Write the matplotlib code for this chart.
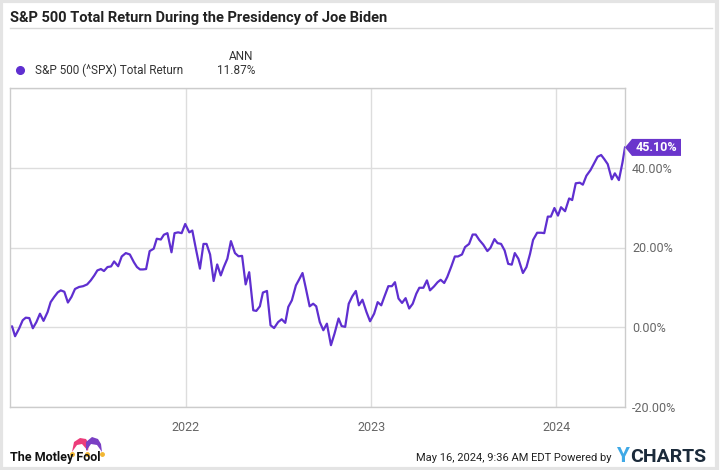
import matplotlib
matplotlib.use('Agg')
import matplotlib.pyplot as plt
import matplotlib.dates as mdates
import matplotlib.transforms as mtransforms
from matplotlib.patches import Polygon, Rectangle
import pandas as pd

plt.rcParams['font.family'] = ['Roboto', 'DejaVu Sans']

# data: days since inauguration (2021-01-20) and total return in %
start = pd.Timestamp('2021-01-20')
days = [0, 4, 10, 18, 25, 31, 38, 45, 52, 59, 66, 74, 80, 87, 94, 100, 107, 114, 121, 128,
        136, 144, 152, 159, 166, 172, 179, 185, 192, 199, 205, 213, 220, 228, 236, 244, 250,
        256, 262, 268, 275, 283, 289, 297, 303, 310, 318, 324, 331, 338, 345, 353, 359, 366,
        374, 381, 387, 394, 401, 408, 415, 421, 428, 435, 443, 450, 457, 464, 471, 479, 485,
        492, 498, 506, 513, 520, 528, 535, 542, 548, 555, 563, 569, 576, 582, 590, 597, 603,
        610, 617, 624, 632, 639, 647, 653, 660, 667, 674, 681, 687, 694, 702, 709, 717, 724,
        731, 737, 745, 752, 758, 765, 772, 779, 786, 793, 800, 806, 814, 821, 827, 835, 842,
        848, 855, 861, 869, 876, 882, 890, 896, 904, 911, 917, 924, 932, 940, 946, 954, 960,
        967, 974, 981, 988, 994, 1001, 1010, 1017, 1024, 1030, 1038, 1046, 1052, 1059, 1065,
        1072, 1079, 1085, 1093, 1101, 1107, 1114, 1122, 1128, 1135, 1143, 1150, 1157, 1164,
        1170, 1177, 1185, 1191, 1199, 1206, 1211]
total_return = [0, 0.25, -2.25, -0.3, 1.75, 2.4, 2.3, -0.25, 1.3, 3.4, 1.6, 3.8, 6.3, 7.6, 8.75,
                9.25, 8.9, 6.2, 7.6, 9.6, 10.1, 10.3, 10.75, 11.75, 13, 14.25, 14.6, 14.1, 15.1,
                15.25, 16.5, 15.3, 17.75, 18.6, 18.25, 16.3, 15.1, 14.5, 14.5, 14.6, 19.1, 19.7,
                22.2, 22, 23.2, 23.6, 18.8, 23.6, 23.8, 23.6, 25.9, 23.8, 24.25, 19.7, 14.7,
                20.9, 20.9, 18.25, 11.6, 15.75, 13, 15.1, 17.2, 21.6, 18.6, 17.8, 17.9, 10.75,
                13.8, 4.25, 4.1, 5.25, 8.7, 9.1, 0.5, -0.2, 1.3, 2, 1.1, 5.1, 6.75, 10.5, 11.9,
                13.6, 10.1, 5.25, 5.9, 5.25, 1.3, -0.75, 0.9, -4.5, -1.6, 2.2, 0.3, 0.1, 5.9,
                7.75, 9.1, 5.5, 6.9, 3.8, 1.5, 3.4, 6.3, 5.5, 7.6, 10.3, 10.3, 11.3, 7.2, 6.1,
                7.3, 4.7, 5.9, 8.4, 9.9, 9.9, 11.75, 9.25, 10.25, 11.3, 11.9, 11.1, 12.6, 15.25,
                17.75, 17.75, 18.25, 20.1, 20.9, 23.25, 23.25, 21.9, 20.7, 19.1, 19.9, 22.1,
                21.1, 20.9, 19.25, 15.9, 15.7, 18.6, 17.2, 13.6, 15.1, 18.4, 21.9, 23.7, 23.7,
                23.6, 27.75, 27.75, 29.9, 28, 30.1, 29.1, 32.3, 31.9, 36.1, 36.25, 35.75, 38,
                39.4, 41.1, 42.75, 43.2, 42.2, 40.9, 37.1, 38.6, 36.9, 41.3, 45.1]
end_date = pd.Timestamp('2024-05-15')
yticks = [-20, 0, 20, 40]
year_ticks = ['2022-01-01', '2023-01-01', '2024-01-01']
series_name = 'S&P 500 (^SPX) Total Return'
ann_value = '11.87%'
last_label = '45.10%'

dates = start + pd.to_timedelta(days, unit='D')
purple = '#5f2fd0'
grid_c = '#dddddd'
text_c = '#666666'

fig = plt.figure(figsize=(7.2, 4.7), dpi=100)
fig.patch.set_facecolor('white')

# card border
fig.patches.append(Rectangle((0.002, 0.003), 0.994, 0.994, transform=fig.transFigure,
                             fill=False, edgecolor='#e4e4e4', linewidth=3))

fig.text(10/720, 1 - 18/470, 'S&P 500 Total Return During the Presidency of Joe Biden',
         fontsize=10.5, fontweight='bold', color='#222222', va='center', ha='left')
fig.add_artist(plt.Line2D([10/720, 712/720], [1 - 28/470, 1 - 28/470],
                          transform=fig.transFigure, color='#d8d8d8', lw=1))

# legend
fig.text(253/720, 1 - 56/470, 'ANN', fontsize=8.5, color='#333333', ha='right', va='center')
fig.text(255/720, 1 - 70/470, ann_value, fontsize=8.5, color='#333333', ha='right', va='center')
fig.text(35/720, 1 - 70/470, series_name, fontsize=8.5, color='#333333', ha='left', va='center')
fig.add_artist(plt.Line2D([20/720], [1 - 70/470], marker='o', markersize=5.5, color=purple,
                          transform=fig.transFigure))

ax = fig.add_axes([10/720, 1 - 407/470, 615/720, 319/470])
ax.plot(dates, total_return, color=purple, lw=1.6, solid_joinstyle='round')
ax.set_xlim(start, end_date)
ax.set_ylim(-20, 60)

ax.set_yticks(yticks + [60])
ax.set_yticklabels(['%.2f%%' % v for v in yticks] + [''])
ax.yaxis.tick_right()
ax.set_xticks(pd.to_datetime(year_ticks))
ax.xaxis.set_major_formatter(mdates.DateFormatter('%Y'))
ax.tick_params(length=0, labelsize=9, labelcolor=text_c)
ax.tick_params(axis='y', pad=5)
ax.tick_params(axis='x', pad=10)
ax.grid(True, color=grid_c, lw=1)
ax.set_axisbelow(True)
for s in ax.spines.values():
    s.set_color('#cccccc')
    s.set_linewidth(1)

# end value tag
xl = mdates.date2num(dates[-1])
yl = total_return[-1]
tr = fig.dpi_scale_trans + mtransforms.ScaledTranslation(xl, yl, ax.transData)
w, h, tip = 56/100, 17/100, 7/100
tag = Polygon([(0, 0), (tip, h/2), (w, h/2), (w, -h/2), (tip, -h/2)], closed=True,
              facecolor='#6a35cc', edgecolor='none', transform=tr, clip_on=False, zorder=5)
ax.add_patch(tag)
ax.annotate(last_label, (xl, yl), xytext=(tip + (w - tip)/2, 0), textcoords=tr,
            color='white', fontsize=9, fontweight='bold', ha='center', va='center',
            zorder=6, annotation_clip=False)

# footer
fig.text(10/720, 1 - 458/470, 'The Motley Fool', fontsize=9, fontweight='bold',
         color='#111111', ha='left', va='center')
hat_l = Polygon([(72/720, 1-452/470), (74/720, 1-442/470), (80/720, 1-438/470), (86/720, 1-439/470),
                 (89/720, 1-444/470), (88/720, 1-451/470), (82/720, 1-444/470), (77/720, 1-445/470)],
                closed=True, transform=fig.transFigure, facecolor='#ec3c7a', edgecolor='none')
hat_r = Polygon([(86/720, 1-451/470), (86/720, 1-442/470), (92/720, 1-437/470), (98/720, 1-439/470),
                 (101/720, 1-444/470), (102/720, 1-452/470), (97/720, 1-445/470), (91/720, 1-444/470)],
                closed=True, transform=fig.transFigure, facecolor='#7a3fc4', edgecolor='none')
fig.patches.extend([hat_l, hat_r])
for px in (72, 87, 102):
    fig.add_artist(plt.Line2D([px/720], [1 - 454/470], marker='o', markersize=2.5,
                              color='#f2b632', transform=fig.transFigure))

fig.text(612/720, 1 - 458/470, 'May 16, 2024, 9:36 AM EDT Powered by', fontsize=8,
         color='#222222', ha='right', va='center')
fig.text(616/720, 1 - 457/470, 'Y', fontsize=15, fontweight='bold', color='#3fa9e6',
         ha='left', va='center')
fig.text(630/720, 1 - 457/470, 'CHARTS', fontsize=14, fontweight='bold', color='#1b2a3a',
         ha='left', va='center')

fig.savefig('out.png', dpi=100)
